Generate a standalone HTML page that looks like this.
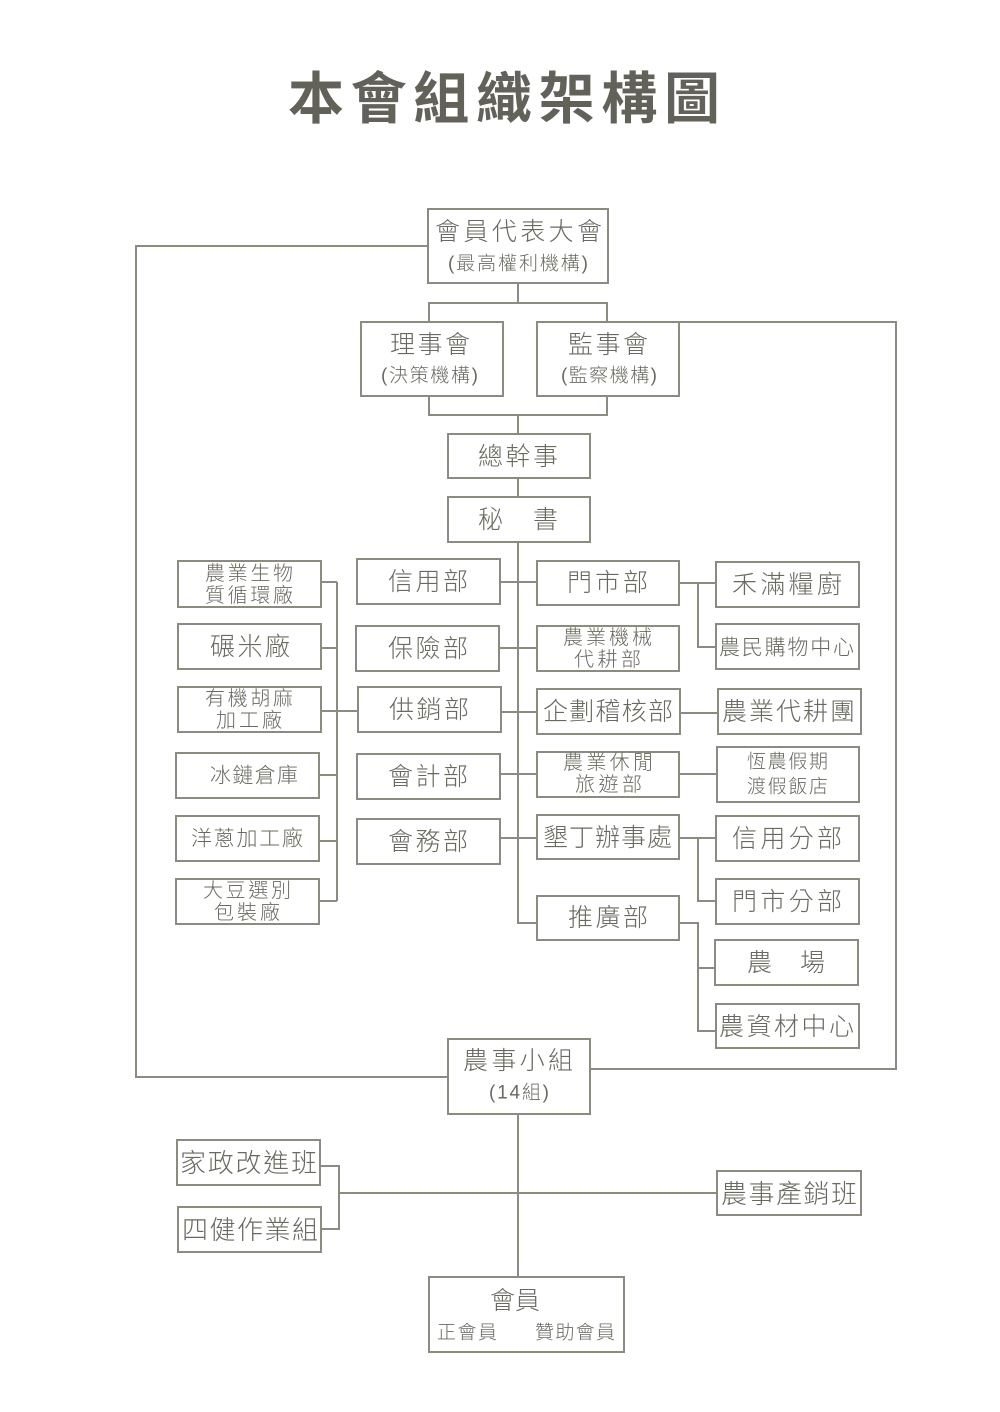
<!DOCTYPE html>
<html>
<head>
<meta charset="utf-8">
<style>
html,body{margin:0;padding:0;background:#fff;}
svg{display:block;}
text{font-family:"Liberation Sans","Noto Sans CJK TC",sans-serif;fill:#6a695f;font-weight:300;}
.t{font-family:"Liberation Sans","Noto Sans CJK TC",sans-serif;font-weight:700;fill:#63625a;}
</style>
</head>
<body>
<svg width="1000" height="1412" viewBox="0 0 1000 1412" xmlns="http://www.w3.org/2000/svg">
<rect width="1000" height="1412" fill="#fff"/>
<text class="t" x="288" y="99" font-size="56" dominant-baseline="central" textLength="432" lengthAdjust="spacing">本會組織架構圖</text>

<g stroke="#8d8b80" stroke-width="2" fill="none">
<!-- left loop -->
<polyline points="428,246 136,246 136,1077 448,1077"/>
<!-- right loop -->
<polyline points="679,322 896,322 896,1069 590,1069"/>
<!-- top tree -->
<line x1="518" y1="283" x2="518" y2="303"/>
<polyline points="429,322 429,303 607,303 607,322"/>
<polyline points="429,396 429,415 607,415 607,396"/>
<line x1="518" y1="415" x2="518" y2="434"/>
<line x1="518" y1="478" x2="518" y2="497"/>
<polyline points="518,542 518,923 537,923"/>
<line x1="500" y1="582" x2="537" y2="582"/>
<line x1="499" y1="648" x2="537" y2="648"/>
<line x1="501" y1="712" x2="537" y2="712"/>
<line x1="500" y1="774" x2="537" y2="774"/>
<line x1="500" y1="838" x2="537" y2="838"/>
<!-- left factories -->
<line x1="337" y1="582" x2="337" y2="901"/>
<line x1="321" y1="582" x2="337" y2="582"/>
<line x1="321" y1="648" x2="337" y2="648"/>
<line x1="321" y1="711" x2="358" y2="711"/>
<line x1="319" y1="775" x2="337" y2="775"/>
<line x1="319" y1="841" x2="337" y2="841"/>
<line x1="319" y1="901" x2="337" y2="901"/>
<!-- right branches -->
<line x1="679" y1="583" x2="716" y2="583"/>
<polyline points="698,583 698,647 716,647"/>
<line x1="680" y1="713" x2="718" y2="713"/>
<line x1="679" y1="774" x2="717" y2="774"/>
<line x1="679" y1="838" x2="716" y2="838"/>
<polyline points="698,838 698,901 716,901"/>
<polyline points="679,923 698,923 698,1031 716,1031"/>
<line x1="698" y1="968" x2="715" y2="968"/>
<!-- bottom -->
<line x1="518" y1="1114" x2="518" y2="1277"/>
<polyline points="320,1166 339,1166 339,1229 321,1229"/>
<line x1="339" y1="1193" x2="717" y2="1193"/>

<!-- boxes -->
<rect x="428" y="209" width="180" height="74"/>
<rect x="361" y="322" width="142" height="74"/>
<rect x="537" y="322" width="142" height="74"/>
<rect x="448" y="434" width="142" height="44"/>
<rect x="448" y="497" width="142" height="45"/>
<rect x="357" y="559" width="143" height="45"/>
<rect x="356" y="626" width="143" height="45"/>
<rect x="358" y="687" width="143" height="45"/>
<rect x="357" y="754" width="143" height="45"/>
<rect x="357" y="819" width="143" height="45"/>
<rect x="178" y="561" width="143" height="46"/>
<rect x="178" y="624" width="143" height="45"/>
<rect x="178" y="687" width="143" height="45"/>
<rect x="176" y="753" width="143" height="45"/>
<rect x="176" y="816" width="143" height="45"/>
<rect x="176" y="879" width="143" height="45"/>
<rect x="537" y="561" width="142" height="44"/>
<rect x="537" y="626" width="142" height="45"/>
<rect x="537" y="689" width="143" height="45"/>
<rect x="537" y="752" width="142" height="45"/>
<rect x="537" y="815" width="142" height="44"/>
<rect x="537" y="896" width="142" height="44"/>
<rect x="716" y="562" width="143" height="45"/>
<rect x="716" y="624" width="143" height="45"/>
<rect x="718" y="689" width="143" height="45"/>
<rect x="717" y="747" width="142" height="55"/>
<rect x="716" y="816" width="143" height="45"/>
<rect x="716" y="879" width="143" height="45"/>
<rect x="715" y="940" width="143" height="45"/>
<rect x="716" y="1004" width="143" height="44"/>
<rect x="448" y="1039" width="142" height="75"/>
<rect x="177" y="1140" width="143" height="45"/>
<rect x="178" y="1207" width="143" height="45"/>
<rect x="717" y="1171" width="144" height="44"/>
<rect x="429" y="1277" width="195" height="75"/>
</g>

<g dominant-baseline="central" lengthAdjust="spacing">
<text x="435" y="232" font-size="25" textLength="167" lengthAdjust="spacing">會員代表大會</text>
<text x="448" y="264" font-size="19" textLength="140" lengthAdjust="spacing">(最高權利機構)</text>
<text x="390" y="345" font-size="25" textLength="80" lengthAdjust="spacing">理事會</text>
<text x="381" y="376" font-size="19" textLength="97" lengthAdjust="spacing">(決策機構)</text>
<text x="568" y="345" font-size="25" textLength="80" lengthAdjust="spacing">監事會</text>
<text x="561" y="376" font-size="19" textLength="96" lengthAdjust="spacing">(監察機構)</text>
<text x="478" y="457" font-size="25" textLength="80" lengthAdjust="spacing">總幹事</text>
<text x="478" y="520" font-size="25" textLength="80" lengthAdjust="spacing">秘　書</text>

<text x="388" y="582" font-size="25" textLength="80" lengthAdjust="spacing">信用部</text>
<text x="388" y="649" font-size="25" textLength="80" lengthAdjust="spacing">保險部</text>
<text x="389" y="710" font-size="25" textLength="80" lengthAdjust="spacing">供銷部</text>
<text x="388" y="777" font-size="25" textLength="80" lengthAdjust="spacing">會計部</text>
<text x="388" y="842" font-size="25" textLength="80" lengthAdjust="spacing">會務部</text>

<text x="205" y="574" font-size="20" textLength="88" lengthAdjust="spacing">農業生物</text>
<text x="205" y="596" font-size="20" textLength="88" lengthAdjust="spacing">質循環廠</text>
<text x="210" y="647" font-size="25" textLength="80" lengthAdjust="spacing">碾米廠</text>
<text x="205" y="699" font-size="20" textLength="88" lengthAdjust="spacing">有機胡麻</text>
<text x="216" y="721" font-size="20" textLength="66" lengthAdjust="spacing">加工廠</text>
<text x="210" y="776" font-size="21" textLength="88" lengthAdjust="spacing">冰鏈倉庫</text>
<text x="191" y="839" font-size="21" textLength="112" lengthAdjust="spacing">洋蔥加工廠</text>
<text x="203" y="891" font-size="20" textLength="88" lengthAdjust="spacing">大豆選別</text>
<text x="214" y="913" font-size="20" textLength="66" lengthAdjust="spacing">包裝廠</text>

<text x="567" y="583" font-size="25" textLength="81" lengthAdjust="spacing">門市部</text>
<text x="563" y="638" font-size="20" textLength="89" lengthAdjust="spacing">農業機械</text>
<text x="574" y="660" font-size="20" textLength="67" lengthAdjust="spacing">代耕部</text>
<text x="543" y="712" font-size="25" textLength="130" lengthAdjust="spacing">企劃稽核部</text>
<text x="563" y="763" font-size="20" textLength="90" lengthAdjust="spacing">農業休閒</text>
<text x="575" y="785" font-size="20" textLength="67" lengthAdjust="spacing">旅遊部</text>
<text x="543" y="838" font-size="25" textLength="129" lengthAdjust="spacing">墾丁辦事處</text>
<text x="568" y="918" font-size="25" textLength="80" lengthAdjust="spacing">推廣部</text>

<text x="732" y="585" font-size="25" textLength="110" lengthAdjust="spacing">禾滿糧廚</text>
<text x="719" y="648" font-size="21" textLength="135" lengthAdjust="spacing">農民購物中心</text>
<text x="722" y="712" font-size="25" textLength="133" lengthAdjust="spacing">農業代耕團</text>
<text x="747" y="762" font-size="19" textLength="81" lengthAdjust="spacing">恆農假期</text>
<text x="747" y="787" font-size="19" textLength="81" lengthAdjust="spacing">渡假飯店</text>
<text x="732" y="839" font-size="25" textLength="110" lengthAdjust="spacing">信用分部</text>
<text x="732" y="902" font-size="25" textLength="110" lengthAdjust="spacing">門市分部</text>
<text x="747" y="963" font-size="25" textLength="78" lengthAdjust="spacing">農　場</text>
<text x="719" y="1027" font-size="25" textLength="135" lengthAdjust="spacing">農資材中心</text>

<text x="463" y="1061" font-size="25" textLength="110" lengthAdjust="spacing">農事小組</text>
<text x="489" y="1093" font-size="19" textLength="60" lengthAdjust="spacing">(14組)</text>
<text x="180" y="1163" font-size="26" textLength="137" lengthAdjust="spacing">家政改進班</text>
<text x="182" y="1230" font-size="26" textLength="136" lengthAdjust="spacing">四健作業組</text>
<text x="721" y="1194" font-size="26" textLength="136" lengthAdjust="spacing">農事產銷班</text>
<text x="490" y="1301" font-size="25" textLength="50" lengthAdjust="spacing">會員</text>
<text x="437" y="1333" font-size="19" textLength="60" lengthAdjust="spacing">正會員</text>
<text x="535" y="1333" font-size="19" textLength="80" lengthAdjust="spacing">贊助會員</text>
</g>
</svg>
</body>
</html>
